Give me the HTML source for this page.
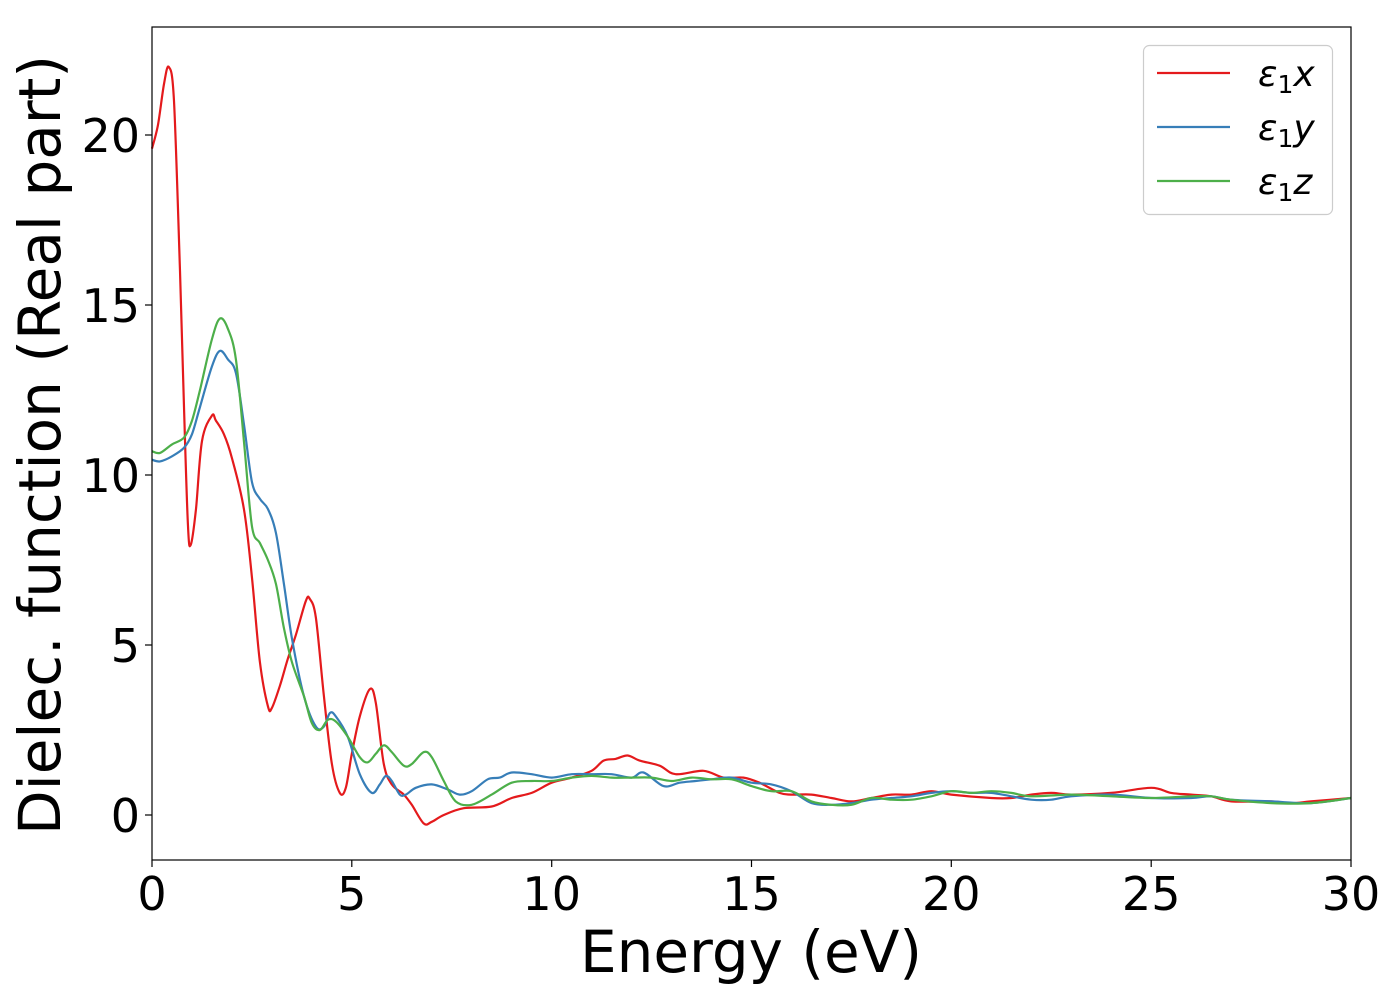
<!DOCTYPE html>
<html><head><meta charset="utf-8"><style>
body{margin:0;background:#fff;}
svg text{font-family:"DejaVu Sans","Liberation Sans",sans-serif;fill:#000;}
</style></head><body>
<svg id="s" width="1400" height="1000" xmlns="http://www.w3.org/2000/svg">
<rect width="1400" height="1000" fill="#fff"/>
<g id="curves" fill="none" stroke-width="2.2" stroke-linejoin="round"></g>
<rect x="152" y="27" width="1199" height="833" fill="none" stroke="#000" stroke-width="1.2"/>
<g stroke="#000" stroke-width="1.2">
<line x1="152" y1="860" x2="152" y2="867"/><line x1="351.8" y1="860" x2="351.8" y2="867"/><line x1="551.7" y1="860" x2="551.7" y2="867"/><line x1="751.5" y1="860" x2="751.5" y2="867"/><line x1="951.3" y1="860" x2="951.3" y2="867"/><line x1="1151.2" y1="860" x2="1151.2" y2="867"/><line x1="1351" y1="860" x2="1351" y2="867"/>
<line x1="145" y1="815" x2="152" y2="815"/><line x1="145" y1="645" x2="152" y2="645"/><line x1="145" y1="475" x2="152" y2="475"/><line x1="145" y1="305" x2="152" y2="305"/><line x1="145" y1="135" x2="152" y2="135"/>
</g>
<g font-size="46" text-anchor="middle">
<text x="152" y="910">0</text><text x="351.8" y="910">5</text><text x="551.7" y="910">10</text><text x="751.5" y="910">15</text><text x="951.3" y="910">20</text><text x="1151.2" y="910">25</text><text x="1351" y="910">30</text>
</g>
<g font-size="46" text-anchor="end">
<text x="140" y="832">0</text><text x="140" y="662">5</text><text x="140" y="492">10</text><text x="140" y="322">15</text><text x="140" y="152">20</text>
</g>
<text x="751" y="972" font-size="58" text-anchor="middle">Energy (eV)</text>
<text transform="translate(60,445) rotate(-90)" font-size="58" text-anchor="middle">Dielec. function (Real part)</text>
<rect x="1143.5" y="45.5" width="189" height="169" rx="6" fill="#fff" fill-opacity="0.8" stroke="#ccc" stroke-width="1.2"/>
<line x1="1157" y1="73" x2="1230" y2="73" stroke="#e41a1c" stroke-width="2.2"/>
<line x1="1157" y1="127" x2="1230" y2="127" stroke="#377eb8" stroke-width="2.2"/>
<line x1="1157" y1="181" x2="1230" y2="181" stroke="#4daf4a" stroke-width="2.2"/>
<g font-size="36" font-style="italic">
<text x="1258" y="86">ε<tspan font-size="25" font-style="normal" dy="7">1</tspan><tspan dy="-7">x</tspan></text>
<text x="1258" y="140">ε<tspan font-size="25" font-style="normal" dy="7">1</tspan><tspan dy="-7">y</tspan></text>
<text x="1258" y="194">ε<tspan font-size="25" font-style="normal" dy="7">1</tspan><tspan dy="-7">z</tspan></text>
</g>
</svg>
<script>
var R=[0,19.6,0.15,20.3,0.3,21.5,0.42,22.0,0.55,21,0.7,16,0.8,12,0.9,8.5,0.97,7.95,1.1,9,1.25,11,1.5,11.75,1.6,11.6,1.8,11.2,2.0,10.5,2.3,9,2.5,7,2.7,4.5,2.9,3.2,3.0,3.15,3.2,3.8,3.4,4.6,3.6,5.3,3.85,6.3,3.95,6.35,4.1,5.8,4.3,3.5,4.5,1.5,4.7,0.65,4.85,0.8,5.0,1.8,5.2,2.9,5.45,3.7,5.6,3.3,5.8,1.5,6.0,0.9,6.3,0.6,6.5,0.3,6.8,-0.25,7.0,-0.2,7.3,0,7.8,0.2,8.5,0.25,9,0.5,9.5,0.65,10,0.95,10.5,1.1,11,1.3,11.3,1.6,11.6,1.65,11.9,1.75,12.2,1.6,12.7,1.45,13.1,1.2,13.8,1.3,14.3,1.1,14.8,1.1,15.2,0.95,15.7,0.65,16,0.6,16.5,0.6,17,0.5,17.5,0.4,18,0.5,18.5,0.6,19,0.6,19.5,0.7,20,0.6,21,0.5,21.5,0.5,22,0.6,22.5,0.65,23,0.6,24,0.65,25,0.8,25.5,0.65,26,0.6,26.5,0.55,27,0.4,28,0.4,28.5,0.35,29,0.4,30,0.5];
var B=[0,10.45,0.2,10.4,0.5,10.55,0.8,10.8,1.0,11.2,1.2,12,1.5,13.2,1.7,13.65,1.9,13.4,2.1,13.0,2.3,11.5,2.5,9.8,2.7,9.3,2.9,9.0,3.1,8.3,3.3,6.8,3.5,5.2,3.8,3.5,4.1,2.6,4.3,2.6,4.45,3.0,4.6,2.9,4.9,2.3,5.2,1.2,5.5,0.65,5.7,0.9,5.85,1.15,6.0,1.0,6.2,0.6,6.35,0.6,6.6,0.8,7.0,0.9,7.4,0.75,7.7,0.6,8.0,0.7,8.4,1.05,8.7,1.1,9.0,1.25,9.5,1.2,10,1.1,10.5,1.2,11,1.2,11.5,1.2,12,1.1,12.3,1.25,12.8,0.85,13.2,0.95,13.6,1.0,14,1.05,14.5,1.1,15,0.95,15.5,0.9,16,0.7,16.5,0.35,17,0.3,17.5,0.35,18,0.45,18.5,0.5,19,0.55,19.5,0.65,20,0.7,20.5,0.65,21,0.65,21.5,0.55,22,0.45,22.5,0.45,23,0.55,24,0.6,25,0.5,26,0.5,26.5,0.55,27,0.45,28,0.4,29,0.35,30,0.5];
var G=[0,10.7,0.2,10.65,0.5,10.9,0.8,11.1,1.0,11.6,1.2,12.5,1.5,14,1.7,14.6,1.9,14.3,2.1,13.4,2.3,11,2.5,8.5,2.7,8.0,2.9,7.5,3.1,6.8,3.3,5.5,3.5,4.5,3.8,3.5,4.0,2.7,4.2,2.5,4.4,2.8,4.6,2.75,4.9,2.3,5.2,1.7,5.4,1.55,5.6,1.8,5.8,2.05,6.0,1.85,6.3,1.45,6.5,1.5,6.8,1.85,7.0,1.7,7.3,1.0,7.6,0.4,8.0,0.3,8.5,0.6,9,0.95,9.5,1.0,10,1.0,10.5,1.1,11,1.15,11.5,1.1,12,1.1,12.5,1.1,13,1.0,13.5,1.1,14,1.05,14.5,1.05,15,0.85,15.5,0.7,16,0.7,16.5,0.4,17,0.3,17.5,0.3,18,0.5,18.5,0.45,19,0.45,19.5,0.55,20,0.7,20.5,0.65,21,0.7,21.5,0.65,22,0.55,23,0.6,24,0.55,25,0.5,26,0.55,26.5,0.55,27,0.45,28,0.35,29,0.35,30,0.5];
function path(a){var p=[];for(var i=0;i<a.length;i+=2)p.push([152+a[i]*39.967,815-a[i+1]*34]);
var d="M"+p[0][0].toFixed(1)+","+p[0][1].toFixed(1);
for(var i=0;i<p.length-1;i++){var p0=p[Math.max(0,i-1)],p1=p[i],p2=p[i+1],p3=p[Math.min(p.length-1,i+2)];
var c1x=p1[0]+(p2[0]-p0[0])/6,c1y=p1[1]+(p2[1]-p0[1])/6,c2x=p2[0]-(p3[0]-p1[0])/6,c2y=p2[1]-(p3[1]-p1[1])/6;
d+="C"+c1x.toFixed(1)+","+c1y.toFixed(1)+" "+c2x.toFixed(1)+","+c2y.toFixed(1)+" "+p2[0].toFixed(1)+","+p2[1].toFixed(1);}
return d;}
var g=document.getElementById("curves"),ns="http://www.w3.org/2000/svg";
[[R,"#e41a1c"],[B,"#377eb8"],[G,"#4daf4a"]].forEach(function(s){var e=document.createElementNS(ns,"path");e.setAttribute("d",path(s[0]));e.setAttribute("stroke",s[1]);g.appendChild(e);});
</script>
</body></html>
